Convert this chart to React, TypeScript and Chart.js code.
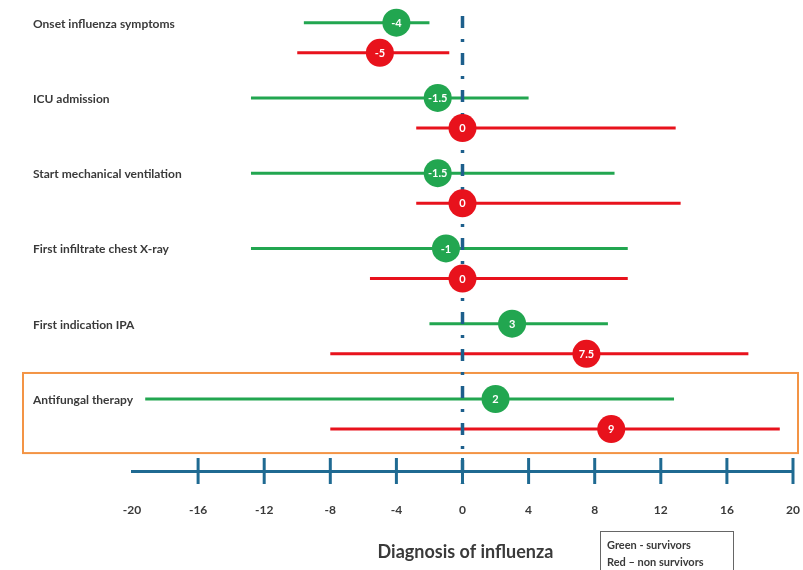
import React, { useEffect, useRef } from "react";
import { Chart, registerables } from "chart.js";

Chart.register(...registerables);

const categories = [
  "Onset influenza symptoms",
  "ICU admission",
  "Start mechanical ventilation",
  "First infiltrate chest X-ray",
  "First indication IPA",
  "Antifungal therapy",
];
const survivorMedian = [-4, -1.5, -1.5, -1, 3, 2];
const survivorLow = [-9.6, -12.8, -12.8, -12.8, -2, -19.2];
const survivorHigh = [-2, 4, 9.2, 10, 8.8, 12.8];
const nonSurvivorMedian = [-5, 0, 0, 0, 7.5, 9];
const nonSurvivorLow = [-10, -2.8, -2.8, -5.6, -8, -8];
const nonSurvivorHigh = [-0.8, 12.9, 13.2, 10, 17.3, 19.2];
const xTickValues = [-20, -16, -12, -8, -4, 0, 4, 8, 12, 16, 20];
const axisTitle = "Diagnosis of influenza";
const legendLines = ["Green - survivors", "Red \u2013 non survivors"];
const highlightedRow = 5;

const GREEN = "#22a650";
const RED = "#e8121c";
const AXIS = "#1f6a92";
const TEXT = "#3a3a3a";
const FONT = "Lato, 'Open Sans', sans-serif";
const RED_OFFSET = 0.4;

function rangeData(lo: number[], hi: number[], off: number) {
  const out: any[] = [];
  lo.forEach((l, i) => {
    out.push({ x: l, y: i + off }, { x: hi[i], y: i + off }, { x: null, y: null });
  });
  return out;
}

const overlayPlugin = {
  id: "overlay",
  beforeDatasetsDraw(chart: any) {
    const { ctx, scales } = chart;
    const y = scales.y;
    ctx.save();
    ctx.strokeStyle = "#f39445";
    ctx.lineWidth = 2;
    const top = y.getPixelForValue(highlightedRow) - 26;
    const bottom = y.getPixelForValue(highlightedRow + RED_OFFSET) + 24;
    ctx.strokeRect(23, top, 775, bottom - top);
    ctx.restore();
  },
  afterDatasetsDraw(chart: any) {
    const { ctx } = chart;
    ctx.save();
    ctx.fillStyle = "#ffffff";
    ctx.font = `bold 11px ${FONT}`;
    ctx.textAlign = "center";
    ctx.textBaseline = "middle";
    const sets: [number, number[]][] = [
      [0, survivorMedian],
      [1, nonSurvivorMedian],
    ];
    sets.forEach(([idx, vals]) => {
      const meta = chart.getDatasetMeta(idx);
      meta.data.forEach((el: any, i: number) => {
        ctx.fillText(String(vals[i]), el.x, el.y + 0.5);
      });
    });
    ctx.restore();
  },
  afterDraw(chart: any) {
    const { ctx, scales, chartArea } = chart;
    const x = scales.x;
    const y = scales.y;
    const yAxis = chartArea.bottom;
    ctx.save();
    ctx.strokeStyle = AXIS;
    ctx.lineWidth = 3;
    xTickValues.slice(1).forEach((v) => {
      const px = x.getPixelForValue(v);
      ctx.beginPath();
      ctx.moveTo(px, yAxis - 13);
      ctx.lineTo(px, yAxis + 13);
      ctx.stroke();
    });
    // category labels
    ctx.fillStyle = TEXT;
    ctx.font = `bold 12px ${FONT}`;
    ctx.textAlign = "left";
    ctx.textBaseline = "middle";
    categories.forEach((c, i) => {
      ctx.fillText(c, 33, y.getPixelForValue(i) + 1);
    });
    // title
    ctx.font = `bold 18px ${FONT}`;
    ctx.textAlign = "center";
    ctx.fillText(axisTitle, x.getPixelForValue(0) + 3, 552);
    // legend box
    ctx.strokeStyle = "#666666";
    ctx.lineWidth = 1;
    ctx.strokeRect(600.5, 531.5, 133, 45);
    ctx.font = `bold 11px ${FONT}`;
    ctx.textAlign = "left";
    legendLines.forEach((t, i) => {
      ctx.fillText(t, 607, 545 + i * 17);
    });
    ctx.restore();
  },
};

export default function App() {
  const ref = useRef<HTMLCanvasElement>(null);
  useEffect(() => {
    if (!ref.current) return;
    const chart = new Chart(ref.current, {
      type: "line",
      data: {
        datasets: [
          {
            label: "Survivors median",
            data: survivorMedian.map((v, i) => ({ x: v, y: i })),
            showLine: false,
            pointRadius: 14,
            pointHoverRadius: 14,
            pointBackgroundColor: GREEN,
            pointBorderWidth: 0,
            borderColor: GREEN,
            order: 0,
          },
          {
            label: "Non survivors median",
            data: nonSurvivorMedian.map((v, i) => ({ x: v, y: i + RED_OFFSET })),
            showLine: false,
            pointRadius: 14,
            pointHoverRadius: 14,
            pointBackgroundColor: RED,
            pointBorderWidth: 0,
            borderColor: RED,
            order: 0,
          },
          {
            label: "Diagnosis",
            data: [
              { x: 0, y: -0.09 },
              { x: 0, y: 6.13 },
            ],
            borderColor: "#1d5f8c",
            borderWidth: 3.5,
            borderDash: [12, 11, 3, 11],
            borderCapStyle: "butt",
            pointRadius: 0,
            clip: false as any,
            order: 1,
          },
          {
            label: "Survivors range",
            data: rangeData(survivorLow, survivorHigh, 0),
            borderColor: GREEN,
            borderWidth: 3,
            pointRadius: 0,
            spanGaps: false,
            order: 2,
          },
          {
            label: "Non survivors range",
            data: rangeData(nonSurvivorLow, nonSurvivorHigh, RED_OFFSET),
            borderColor: RED,
            borderWidth: 3,
            pointRadius: 0,
            spanGaps: false,
            order: 2,
          },
        ],
      },
      options: {
        animation: false,
        responsive: false,
        events: [],
        layout: { autoPadding: false, padding: { left: 33, right: 10, top: 8, bottom: 0 } },
        plugins: {
          legend: { display: false },
          title: { display: false },
          tooltip: { enabled: false },
        },
        scales: {
          x: {
            type: "linear",
            position: "bottom",
            min: -20,
            max: 20,
            afterBuildTicks: (scale: any) => {
              scale.ticks = xTickValues.map((v) => ({ value: v }));
            },
            afterFit: (scale: any) => {
              scale.height = 99;
              scale.paddingLeft = 0;
              scale.paddingRight = 0;
            },
            grid: { display: false, drawTicks: false },
            border: { display: true, color: AXIS, width: 3 },
            ticks: {
              padding: 32,
              color: TEXT,
              maxRotation: 0,
              font: { family: FONT, size: 12, weight: "bold" },
              callback: (v: any) => String(v),
            },
          },
          y: {
            type: "linear",
            reverse: true,
            min: -0.195,
            max: 5.957,
            afterFit: (scale: any) => {
              scale.width = 99;
            },
            grid: { display: false, drawTicks: false },
            border: { display: false },
            ticks: { display: false },
          },
        },
      } as any,
      plugins: [overlayPlugin],
    });
    return () => chart.destroy();
  }, []);
  return (
    <div style={{ position: "fixed", left: 0, top: 0, width: 803, height: 570, background: "#fff" }}>
      <canvas ref={ref} width={803} height={570} style={{ display: "block" }} />
    </div>
  );
}
